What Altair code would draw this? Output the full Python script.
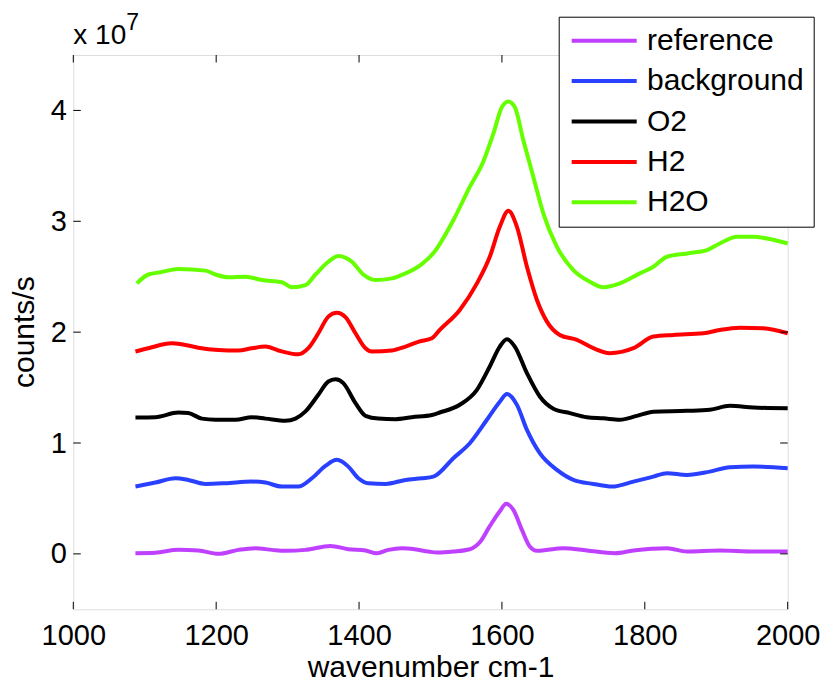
import altair as alt
import pandas as pd

SERIES = ["reference", "background", "O2", "H2", "H2O"]
COLORS = ["#BF40FF", "#2A40FF", "#000000", "#FF0000", "#66FF00"]

# values in units of 10^7 counts/s
REF_W = [1087, 1115, 1147, 1175, 1203, 1231, 1255, 1278, 1297, 1325, 1360, 1385, 1409, 1425, 1441,
         1460, 1478, 1497, 1509, 1532, 1555, 1569, 1583, 1597, 1606, 1616, 1628, 1639, 1649, 1686,
         1719, 1758, 1784, 1831, 1859, 1905, 1952, 2000]
REF_V = [0.006, 0.010, 0.036, 0.030, 0.000, 0.036, 0.051, 0.036, 0.027, 0.036, 0.072, 0.042, 0.030, 0.006, 0.036,
         0.051, 0.042, 0.021, 0.012, 0.021, 0.042, 0.105, 0.250, 0.385, 0.451, 0.397, 0.216, 0.066, 0.027, 0.051,
         0.030, 0.006, 0.030, 0.051, 0.021, 0.030, 0.021, 0.021]

BG_W = [1087, 1115, 1143, 1161, 1185, 1213, 1250, 1269, 1292, 1315, 1334, 1353, 1369, 1385, 1399,
        1413, 1437, 1465, 1488, 1504, 1532, 1555, 1579, 1597, 1607, 1621, 1635, 1653, 1677, 1700,
        1728, 1754, 1784, 1812, 1831, 1859, 1891, 1919, 1952, 2000]
BG_V = [0.607, 0.643, 0.682, 0.667, 0.631, 0.637, 0.652, 0.643, 0.607, 0.607, 0.682, 0.794, 0.848, 0.787, 0.682,
        0.637, 0.631, 0.667, 0.682, 0.697, 0.863, 0.998, 1.210, 1.373, 1.443, 1.344, 1.118, 0.908, 0.757, 0.667,
        0.631, 0.607, 0.652, 0.697, 0.728, 0.712, 0.742, 0.782, 0.787, 0.773]

O2_W = [1087, 1115, 1147, 1161, 1180, 1199, 1227, 1250, 1269, 1297, 1311, 1325, 1343, 1357, 1367,
        1378, 1395, 1409, 1427, 1451, 1474, 1502, 1513, 1541, 1565, 1583, 1597, 1607, 1618, 1635,
        1653, 1672, 1695, 1719, 1742, 1765, 1789, 1812, 1859, 1891, 1919, 1952, 2000]
O2_V = [1.230, 1.233, 1.275, 1.270, 1.220, 1.210, 1.210, 1.233, 1.220, 1.200, 1.220, 1.285, 1.435, 1.555, 1.575,
        1.540, 1.360, 1.245, 1.220, 1.215, 1.233, 1.253, 1.275, 1.345, 1.480, 1.690, 1.870, 1.935, 1.870, 1.630,
        1.420, 1.310, 1.270, 1.233, 1.223, 1.210, 1.245, 1.283, 1.290, 1.300, 1.335, 1.320, 1.313]

H2_W = [1087, 1105, 1138, 1152, 1175, 1203, 1231, 1250, 1269, 1287, 1315, 1329, 1343, 1357, 1369,
        1381, 1395, 1409, 1418, 1446, 1465, 1484, 1502, 1513, 1541, 1565, 1583, 1597, 1609, 1621,
        1635, 1649, 1663, 1681, 1705, 1728, 1751, 1784, 1812, 1840, 1882, 1905, 1933, 1966, 2000]
H2_V = [1.825, 1.855, 1.900, 1.890, 1.860, 1.840, 1.835, 1.855, 1.870, 1.835, 1.800, 1.855, 1.990, 2.140, 2.175,
        2.135, 1.990, 1.855, 1.825, 1.835, 1.870, 1.915, 1.945, 2.020, 2.200, 2.440, 2.680, 2.950, 3.095, 2.950,
        2.590, 2.290, 2.095, 1.975, 1.930, 1.855, 1.810, 1.855, 1.960, 1.975, 1.990, 2.020, 2.040, 2.035, 1.990]

H2O_W = [1089, 1105, 1122, 1147, 1185, 1199, 1217, 1241, 1264, 1292, 1306, 1325, 1339, 1357, 1371,
         1390, 1406, 1423, 1446, 1465, 1486, 1505, 1532, 1555, 1574, 1588, 1600, 1609, 1618, 1630,
         1644, 1658, 1677, 1700, 1723, 1742, 1765, 1793, 1812, 1831, 1859, 1887, 1905, 1929, 1952,
         1975, 2000]
H2O_V = [2.440, 2.520, 2.540, 2.570, 2.555, 2.520, 2.495, 2.500, 2.470, 2.450, 2.405, 2.425, 2.520, 2.635, 2.687,
         2.635, 2.520, 2.470, 2.485, 2.530, 2.605, 2.720, 3.010, 3.310, 3.540, 3.790, 4.030, 4.080, 4.030, 3.730,
         3.400, 3.070, 2.770, 2.560, 2.455, 2.405, 2.440, 2.530, 2.590, 2.680, 2.710, 2.740, 2.800, 2.860, 2.860,
         2.840, 2.800]

X_TICKS = [1000, 1200, 1400, 1600, 1800, 2000]
Y_TICKS = [0, 1, 2, 3, 4]

W, H = 714.4, 554.3
TICK = 7.5
FONT = "Liberation Sans"

rows = []
for name, ws, vs in [("reference", REF_W, REF_V), ("background", BG_W, BG_V), ("O2", O2_W, O2_V),
                     ("H2", H2_W, H2_V), ("H2O", H2O_W, H2O_V)]:
    for w, v in zip(ws, vs):
        rows.append({"series": name, "w": w, "v": v})
df = pd.DataFrame(rows)

x_scale = alt.Scale(domain=[1000, 2000], nice=False, zero=False)
y_scale = alt.Scale(domain=[-0.5, 4.5], nice=False, zero=False)

x_axis = alt.Axis(values=X_TICKS, title="wavenumber cm-1", grid=False, domain=False, ticks=False, tickSize=0,
                  labelFontSize=29, labelFont=FONT, labelColor="black", labelBaseline="alphabetic",
                  labelPadding=35, labelFlush=False, labelOverlap=False, format="d",
                  titleFontSize=30, titleFont=FONT, titleFontWeight="normal", titleColor="black",
                  titleX=W / 2, titleY=67.4, titleAlign="center", titleBaseline="alphabetic")
y_axis = alt.Axis(values=Y_TICKS, title="counts/s", grid=False, domain=False, ticks=False, tickSize=0,
                  labelFontSize=29, labelFont=FONT, labelColor="black", labelBaseline="middle",
                  labelPadding=7, labelFlush=False, labelOverlap=False, format="d",
                  titleFontSize=30, titleFont=FONT, titleFontWeight="normal", titleColor="black",
                  titleX=-40, titleY=276.7, titleAngle=270, titleAlign="center", titleBaseline="alphabetic")

X = alt.X("w:Q", scale=x_scale, axis=x_axis)
Y = alt.Y("v:Q", scale=y_scale, axis=y_axis)

legend = alt.Legend(title=None, orient="none", legendX=485.4, legendY=-38.3, direction="vertical",
                    symbolType="stroke", symbolSize=4225, symbolStrokeWidth=4, symbolOffset=2,
                    labelFontSize=30, labelFont=FONT, labelColor="black", labelOffset=8.3, labelLimit=400,
                    padding=9, clipHeight=30, rowPadding=10.4,
                    strokeColor="black", fillColor="white", cornerRadius=0)

lines = alt.Chart(df).mark_line(strokeWidth=4, interpolate="monotone").encode(
    x=X, y=Y,
    color=alt.Color("series:N", scale=alt.Scale(domain=SERIES, range=COLORS), legend=legend, sort=SERIES),
)

xt = pd.DataFrame({"w": X_TICKS})
yt = pd.DataFrame({"v": Y_TICKS})
tick_style = dict(color="black", strokeWidth=1)
bottom_ticks = alt.Chart(xt).mark_rule(**tick_style).encode(x=X, y=alt.value(H), y2=alt.value(H - TICK))
top_ticks = alt.Chart(xt).mark_rule(**tick_style).encode(x=X, y=alt.value(0), y2=alt.value(TICK))
left_ticks = alt.Chart(yt).mark_rule(**tick_style).encode(y=Y, x=alt.value(0), x2=alt.value(TICK))
right_ticks = alt.Chart(yt).mark_rule(**tick_style).encode(y=Y, x=alt.value(W), x2=alt.value(W - TICK))

mult = alt.Chart(pd.DataFrame({"t": ["x 10"]})).mark_text(
    align="left", baseline="alphabetic", fontSize=28, font=FONT, color="black"
).encode(text="t:N", x=alt.value(0), y=alt.value(-11.2))
expo = alt.Chart(pd.DataFrame({"t": ["7"]})).mark_text(
    align="left", baseline="alphabetic", fontSize=23, font=FONT, color="black"
).encode(text="t:N", x=alt.value(53), y=alt.value(-25))

chart = alt.layer(lines, bottom_ticks, top_ticks, left_ticks, right_ticks, mult, expo).properties(
    width=W, height=H,
    autosize=alt.AutoSizeParams(type="none"),
    padding={"left": 65.3, "top": 47, "right": 32, "bottom": 76},
).configure_view(stroke="black", strokeWidth=1).configure(background="white")

chart.save("out.html", embed_options={"renderer": "svg", "actions": False})
